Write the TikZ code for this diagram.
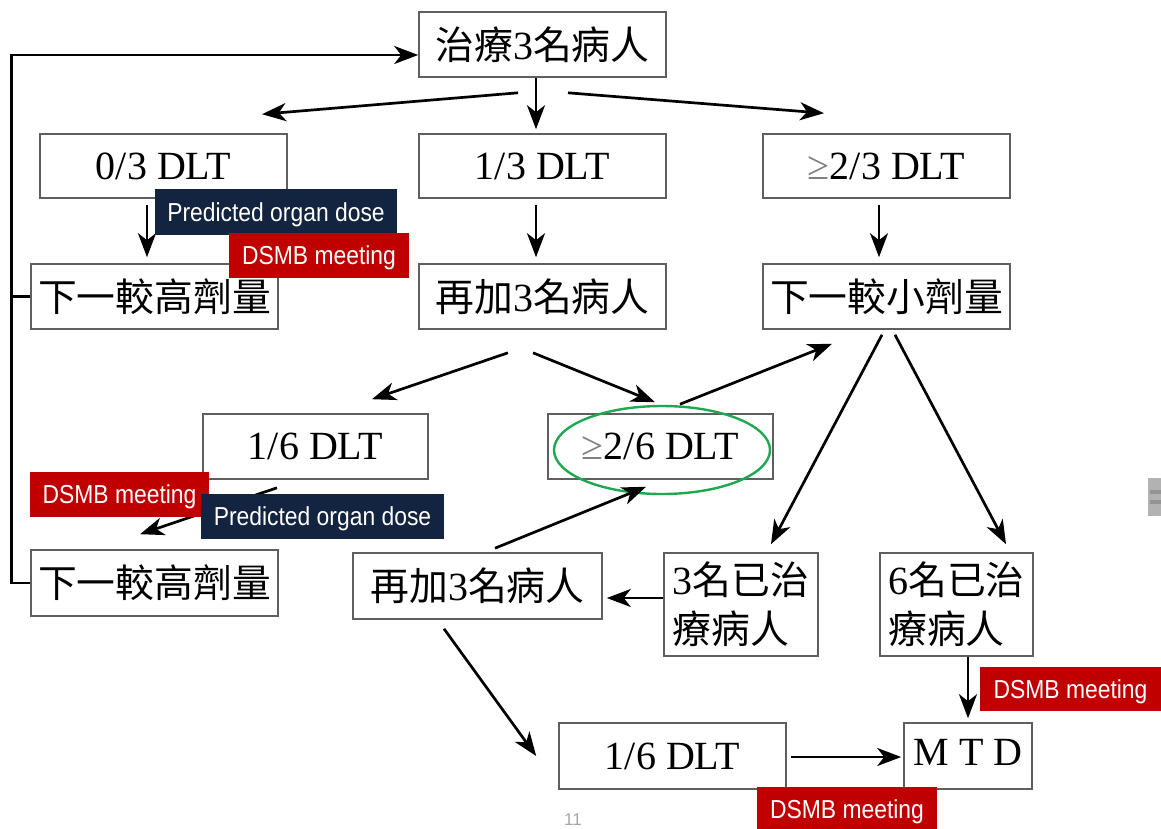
\documentclass[tikz,border=0pt]{standalone}
\usepackage{fontspec}
\setmainfont{Liberation Serif}
\newfontfamily\cjk[Scale=0.97]{Noto Sans CJK TC}
\newfontfamily\labfont[FakeStretch=0.88]{Liberation Sans}
\newfontfamily\sansf{Liberation Sans}
\usetikzlibrary{arrows.meta,calc}
\definecolor{boxgray}{RGB}{95,95,95}
\definecolor{navy}{RGB}{18,36,63}
\definecolor{dsmbred}{RGB}{192,0,0}
\definecolor{ellgreen}{RGB}{30,168,80}
\newcommand{\cj}[1]{{\cjk #1}}
\newcommand{\gesym}{\textcolor{gray}{≥}}
\begin{document}
\begin{tikzpicture}[x=1pt,y=-1pt,
  box/.style={draw=boxgray,line width=1.6pt,inner sep=0pt,fill=white,
    font=\fontsize{40}{49}\selectfont},
  arr/.style={line width=2.7pt,-{Stealth[length=24pt,width=18pt,inset=7pt]}},
  tag/.style={inner sep=0pt,text=white,text depth=0pt,font=\labfont\fontsize{26}{30}\selectfont}]
\useasboundingbox (0,0) rectangle (1161,828);
\clip (0,0) rectangle (1161,828);
\fill[white] (0,0) rectangle (1161,828);

% boxes
\node[box,minimum width=247pt,minimum height=65pt] (top) at (542.5,44.5) {\cj{治療}3\cj{名病人}};
\node[box,minimum width=247pt,minimum height=64pt] (d03) at (163.5,166) {0/3 DLT};
\node[box,minimum width=247pt,minimum height=64pt] (d13) at (542.5,166) {1/3 DLT};
\node[box,minimum width=247pt,minimum height=64pt] (d23) at (886.5,166) {\gesym2/3 DLT};
\node[box,minimum width=247pt,minimum height=65pt] (hi1) at (154.5,296.5) {\cj{下一較高劑量}};
\node[box,minimum width=247pt,minimum height=65pt] (add1) at (542.5,296.5) {\cj{再加}3\cj{名病人}};
\node[box,minimum width=247pt,minimum height=65pt] (lo) at (886.5,296.5) {\cj{下一較小劑量}};
\node[box,minimum width=225pt,minimum height=65pt] (d16) at (315.5,446.5) {1/6 DLT};
\node[box,minimum width=225pt,minimum height=65pt] (d26) at (660.5,446.5) {\gesym2/6 DLT};
\node[box,minimum width=247pt,minimum height=66pt] (hi2) at (154.5,583) {\cj{下一較高劑量}};
\node[box,minimum width=249pt,minimum height=66pt] (add2) at (477.5,586) {\cj{再加}3\cj{名病人}};
\node[box,minimum width=154pt,minimum height=103pt,align=left] (t3) at (741,604.5) {3\cj{名已治}\\\cj{療病人}};
\node[box,minimum width=153pt,minimum height=103pt,align=left] (t6) at (956.5,604.5) {6\cj{名已治}\\\cj{療病人}};
\node[box,minimum width=227pt,minimum height=66pt] (d16b) at (672.5,756) {1/6 DLT};
\node[box,minimum width=128pt,minimum height=66pt] (mtd) at (968,756) {\raisebox{7pt}{M T D}};

\draw[ellgreen,line width=2.4pt] (662,450) ellipse [x radius=108pt,y radius=44pt];

% connectors
\draw[line width=2.4pt] (hi1.west) -- ++(-19pt,0);
\draw[arr] (hi2.west) -- ++(-19pt,0) |- ([yshift=-10.5pt]top.west);
\draw[arr] ([xshift=-24.5pt,yshift=-15pt]top.south) -- ([xshift=98.5pt,yshift=19pt]d03.north);
\draw[arr] ([xshift=-6.5pt]top.south) -- ([xshift=-6.5pt,yshift=4pt]d13.north);
\draw[arr] ([xshift=25.5pt,yshift=-15pt]top.south) -- ([xshift=-62.5pt,yshift=20pt]d23.north);
\draw[arr] ([xshift=-16.5pt,yshift=-6pt]d03.south) -- ([xshift=-7.5pt,yshift=6pt]hi1.north);
\draw[arr] ([xshift=-6.5pt,yshift=-6pt]d13.south) -- ([xshift=-6.5pt,yshift=6pt]add1.north);
\draw[arr] ([xshift=-7.5pt,yshift=-6pt]d23.south) -- ([xshift=-7.5pt,yshift=6pt]lo.north);
\draw[arr] ([xshift=-34.5pt,yshift=-23pt]add1.south) -- ([xshift=56.5pt,yshift=14pt]d16.north);
\draw[arr] ([xshift=-9.5pt,yshift=-23pt]add1.south) -- ([xshift=-5.5pt,yshift=11pt]d26.north);
\draw[arr] ([xshift=19.5pt,yshift=9pt]d26.north) -- ([xshift=-54.5pt,yshift=-14pt]lo.south);
\draw[arr] ([xshift=-4.5pt,yshift=-5pt]lo.south) -- ([xshift=30pt,yshift=8pt]t3.north);
\draw[arr] ([xshift=8.5pt,yshift=-5pt]lo.south) -- ([xshift=49.5pt,yshift=8pt]t6.north);
\draw[arr] ([yshift=6.5pt]t3.west) -- ([xshift=4pt,yshift=-12pt]add2.east);
\draw[arr] ([xshift=17.5pt,yshift=4pt]add2.north) -- ([xshift=-14.5pt,yshift=-7pt]d26.south);
\draw[arr] ([xshift=-38.5pt,yshift=-8pt]d16.south) -- ([xshift=-14.5pt,yshift=15pt]hi2.north);
\draw[arr] ([xshift=-33.5pt,yshift=-9pt]add2.south) -- ([xshift=-22pt]d16b.west);
\draw[arr] ([xshift=4pt,yshift=-1pt]d16b.east) -- ([xshift=-2pt,yshift=-1pt]mtd.west);
\draw[arr] ([xshift=11.5pt]t6.south) -- ([yshift=4pt]mtd.north);

% tags
\node[tag,fill=navy,minimum width=242pt,minimum height=46pt] (pod1) at (276,212) {Predicted organ dose};
\node[tag,fill=dsmbred,minimum width=180pt,minimum height=45pt] (dsmb1) at (319,255.5) {DSMB meeting};
\node[tag,fill=dsmbred,minimum width=179pt,minimum height=45pt] (dsmb2) at (119.5,494.5) {DSMB meeting};
\node[tag,fill=navy,minimum width=243pt,minimum height=45pt] (pod2) at (322.5,516.5) {Predicted organ dose};
\node[tag,fill=dsmbred,minimum width=181pt,minimum height=44pt] (dsmb3) at (1070.5,689) {DSMB meeting};
\node[tag,fill=dsmbred,minimum width=180pt,minimum height=45pt] (dsmb4) at (847,809.5) {DSMB meeting};

\node[text=gray!70,font=\sansf\fontsize{17}{20}\selectfont] (pg) at (573,820) {11};
\fill[gray!60] (1148,478) rectangle (1161,516);
\fill[gray!85] (1150,490) rectangle (1161,494);
\fill[gray!85] (1150,500) rectangle (1161,504);
\end{tikzpicture}
\end{document}
